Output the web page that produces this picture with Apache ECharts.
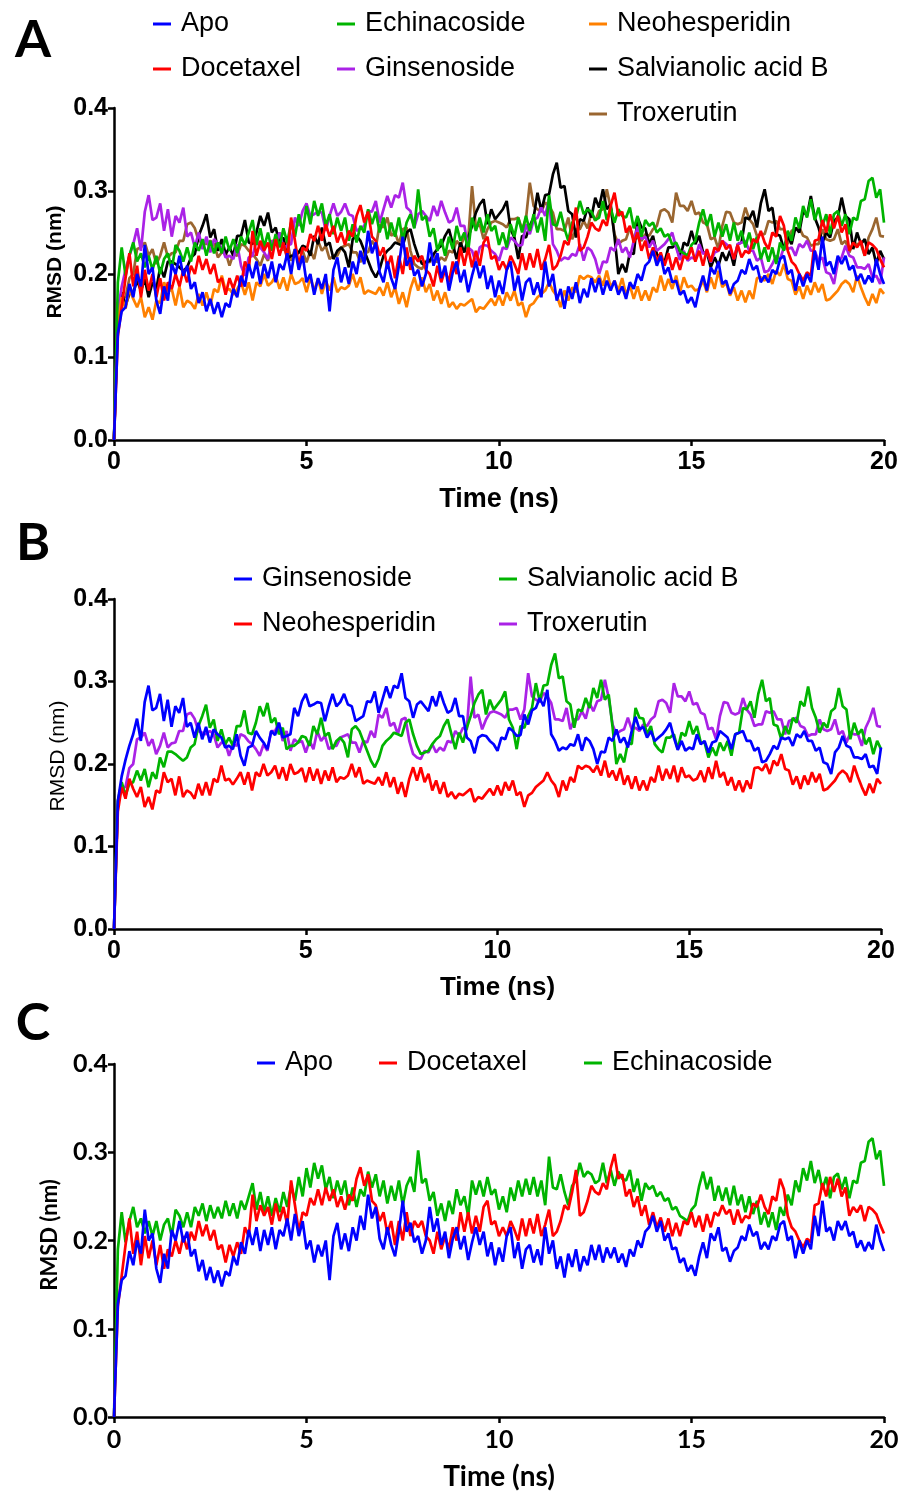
<!DOCTYPE html>
<html><head><meta charset="utf-8">
<script src="https://cdn.jsdelivr.net/npm/echarts/dist/echarts.min.js"></script>
<style>html,body{margin:0;padding:0;background:#fff}#chart{width:902px;height:1494px}</style>
</head><body><div id="chart"></div>
<script>
// ---- DATA (RMSD in nm, one sample every 0.1 ns from 0 to 20 ns) ----
const timeStepNs = 0.1;
const xTickValues = [0, 5, 10, 15, 20];
const yTickValues = [0.0, 0.1, 0.2, 0.3, 0.4];

const apo = [
0, 0.128, 0.155, 0.16, 0.188, 0.172, 0.2, 0.185, 0.235, 0.2,
0.208, 0.168, 0.152, 0.185, 0.168, 0.212, 0.2, 0.222, 0.198, 0.21,
0.182, 0.19, 0.165, 0.178, 0.155, 0.17, 0.152, 0.166, 0.148, 0.165,
0.16, 0.182, 0.172, 0.198, 0.185, 0.212, 0.195, 0.215, 0.188, 0.212,
0.195, 0.215, 0.19, 0.212, 0.205, 0.225, 0.2, 0.23, 0.205, 0.222,
0.19, 0.2, 0.175, 0.195, 0.182, 0.2, 0.155, 0.205, 0.22, 0.19,
0.208, 0.188, 0.215, 0.2, 0.228, 0.212, 0.252, 0.225, 0.238, 0.202,
0.19, 0.215, 0.195, 0.182, 0.21, 0.245, 0.21, 0.22, 0.198, 0.205,
0.185, 0.2, 0.238, 0.21, 0.225, 0.195, 0.21, 0.18, 0.202, 0.215,
0.19, 0.205, 0.178, 0.198, 0.215, 0.195, 0.21, 0.182, 0.198, 0.172,
0.192, 0.176, 0.205, 0.215, 0.18, 0.198, 0.168, 0.19, 0.195, 0.175,
0.19, 0.172, 0.215, 0.185, 0.2, 0.168, 0.182, 0.158, 0.185, 0.17,
0.19, 0.165, 0.182, 0.172, 0.195, 0.178, 0.195, 0.175, 0.192, 0.18,
0.192, 0.175, 0.185, 0.17, 0.19, 0.182, 0.2, 0.192, 0.21, 0.215,
0.228, 0.21, 0.222, 0.2, 0.208, 0.19, 0.192, 0.175, 0.18, 0.165,
0.172, 0.16, 0.182, 0.198, 0.18, 0.208, 0.2, 0.215, 0.188, 0.192,
0.176, 0.188, 0.192, 0.205, 0.2, 0.218, 0.205, 0.21, 0.19, 0.198,
0.19, 0.205, 0.2, 0.218, 0.222, 0.2, 0.205, 0.18, 0.2, 0.185,
0.2, 0.19, 0.228, 0.205, 0.245, 0.21, 0.215, 0.2, 0.222, 0.212,
0.222, 0.205, 0.21, 0.192, 0.2, 0.188, 0.198, 0.19, 0.218, 0.2,
0.188];

const docetaxel = [
0, 0.125, 0.16, 0.195, 0.225, 0.185, 0.21, 0.172, 0.205, 0.18,
0.2, 0.172, 0.195, 0.168, 0.19, 0.182, 0.2, 0.185, 0.205, 0.19,
0.21, 0.2, 0.222, 0.205, 0.218, 0.2, 0.212, 0.19, 0.195, 0.175,
0.195, 0.182, 0.198, 0.185, 0.215, 0.205, 0.252, 0.222, 0.24, 0.228,
0.238, 0.218, 0.242, 0.222, 0.238, 0.218, 0.268, 0.24, 0.21, 0.232,
0.228, 0.248, 0.24, 0.258, 0.24, 0.26, 0.245, 0.258, 0.238, 0.25,
0.235, 0.252, 0.245, 0.27, 0.283, 0.262, 0.275, 0.245, 0.24, 0.222,
0.232, 0.208, 0.222, 0.195, 0.222, 0.2, 0.232, 0.205, 0.222, 0.215,
0.222, 0.205, 0.2, 0.185, 0.21, 0.19, 0.205, 0.19, 0.215, 0.2,
0.232, 0.21, 0.232, 0.208, 0.228, 0.21, 0.238, 0.245, 0.218, 0.222,
0.205, 0.215, 0.205, 0.222, 0.212, 0.2, 0.225, 0.205, 0.225, 0.208,
0.23, 0.205, 0.218, 0.235, 0.205, 0.21, 0.222, 0.24, 0.235, 0.255,
0.28, 0.228, 0.232, 0.245, 0.262, 0.255, 0.252, 0.265, 0.258, 0.282,
0.298, 0.27, 0.275, 0.25, 0.258, 0.238, 0.25, 0.228, 0.24, 0.218,
0.232, 0.215, 0.226, 0.21, 0.225, 0.205, 0.22, 0.205, 0.222, 0.218,
0.232, 0.215, 0.228, 0.21, 0.23, 0.215, 0.232, 0.228, 0.24, 0.23,
0.235, 0.218, 0.235, 0.22, 0.228, 0.225, 0.242, 0.238, 0.252, 0.238,
0.23, 0.25, 0.245, 0.27, 0.258, 0.228, 0.215, 0.21, 0.2, 0.192,
0.202, 0.198, 0.24, 0.242, 0.265, 0.25, 0.272, 0.255, 0.27, 0.25,
0.26, 0.228, 0.238, 0.232, 0.24, 0.222, 0.238, 0.235, 0.23, 0.218,
0.208];

const echinacoside = [
0, 0.19, 0.232, 0.198, 0.222, 0.238, 0.215, 0.225, 0.208, 0.222,
0.205, 0.222, 0.2, 0.218, 0.225, 0.205, 0.235, 0.228, 0.215, 0.232,
0.215, 0.238, 0.228, 0.242, 0.222, 0.24, 0.225, 0.238, 0.225, 0.245,
0.228, 0.242, 0.225, 0.245, 0.235, 0.25, 0.265, 0.235, 0.255, 0.232,
0.25, 0.228, 0.248, 0.232, 0.255, 0.238, 0.262, 0.245, 0.272, 0.25,
0.282, 0.26, 0.288, 0.27, 0.285, 0.258, 0.272, 0.248, 0.268, 0.252,
0.268, 0.24, 0.26, 0.238, 0.258, 0.25, 0.278, 0.26, 0.275, 0.25,
0.268, 0.242, 0.262, 0.245, 0.268, 0.24, 0.262, 0.272, 0.255, 0.302,
0.265, 0.27, 0.245, 0.255, 0.228, 0.242, 0.222, 0.245, 0.23, 0.258,
0.24, 0.25, 0.228, 0.268, 0.252, 0.268, 0.25, 0.272, 0.252, 0.258,
0.235, 0.25, 0.232, 0.26, 0.245, 0.268, 0.25, 0.27, 0.252, 0.272,
0.25, 0.268, 0.24, 0.295, 0.26, 0.258, 0.275, 0.255, 0.24, 0.262,
0.268, 0.288, 0.272, 0.278, 0.275, 0.265, 0.268, 0.288, 0.265, 0.28,
0.262, 0.278, 0.27, 0.268, 0.28, 0.255, 0.27, 0.245, 0.265, 0.258,
0.262, 0.25, 0.255, 0.245, 0.248, 0.235, 0.238, 0.228, 0.225, 0.222,
0.235, 0.24, 0.262, 0.278, 0.258, 0.272, 0.245, 0.262, 0.245, 0.26,
0.24, 0.262, 0.24, 0.252, 0.232, 0.25, 0.23, 0.245, 0.218, 0.232,
0.215, 0.232, 0.212, 0.238, 0.228, 0.252, 0.24, 0.268, 0.255, 0.282,
0.268, 0.29, 0.265, 0.28, 0.258, 0.272, 0.248, 0.272, 0.276, 0.258,
0.272, 0.248, 0.268, 0.265, 0.288, 0.29, 0.312, 0.316, 0.292, 0.302,
0.262];

const neohesperidin = [
0, 0.142, 0.172, 0.158, 0.182, 0.17, 0.16, 0.172, 0.148, 0.16,
0.145, 0.168, 0.165, 0.19, 0.178, 0.182, 0.162, 0.185, 0.16, 0.168,
0.165, 0.158, 0.176, 0.162, 0.178, 0.162, 0.182, 0.178, 0.198, 0.18,
0.182, 0.175, 0.182, 0.19, 0.175, 0.19, 0.168, 0.19, 0.185, 0.2,
0.186, 0.19, 0.198, 0.182, 0.196, 0.18, 0.2, 0.188, 0.19, 0.195,
0.178, 0.196, 0.18, 0.194, 0.176, 0.192, 0.18, 0.196, 0.178, 0.184,
0.182, 0.186, 0.2, 0.184, 0.196, 0.176, 0.18, 0.178, 0.176, 0.184,
0.174, 0.19, 0.172, 0.184, 0.164, 0.178, 0.16, 0.182, 0.196, 0.18,
0.196, 0.178, 0.188, 0.168, 0.18, 0.164, 0.178, 0.16, 0.166, 0.158,
0.164, 0.162, 0.166, 0.17, 0.154, 0.16, 0.158, 0.164, 0.17, 0.162,
0.174, 0.162, 0.178, 0.168, 0.18, 0.162, 0.166, 0.148, 0.162, 0.165,
0.172, 0.176, 0.18, 0.19, 0.18, 0.174, 0.16, 0.18, 0.168, 0.184,
0.178, 0.198, 0.194, 0.198, 0.196, 0.19, 0.198, 0.186, 0.204, 0.184,
0.192, 0.18, 0.195, 0.175, 0.186, 0.17, 0.185, 0.168, 0.18, 0.168,
0.184, 0.178, 0.198, 0.18, 0.194, 0.182, 0.198, 0.178, 0.196, 0.184,
0.186, 0.18, 0.182, 0.192, 0.178, 0.196, 0.182, 0.204, 0.184, 0.19,
0.174, 0.184, 0.168, 0.18, 0.166, 0.18, 0.17, 0.195, 0.196, 0.192,
0.2, 0.188, 0.204, 0.198, 0.212, 0.194, 0.192, 0.175, 0.185, 0.17,
0.186, 0.175, 0.19, 0.178, 0.188, 0.168, 0.17, 0.175, 0.18, 0.188,
0.192, 0.188, 0.178, 0.198, 0.184, 0.172, 0.162, 0.176, 0.165, 0.182,
0.176];

const ginsenoside = [
0, 0.155, 0.185, 0.205, 0.222, 0.236, 0.255, 0.228, 0.275, 0.295,
0.265, 0.268, 0.285, 0.252, 0.278, 0.245, 0.27, 0.262, 0.28, 0.245,
0.25, 0.232, 0.25, 0.23, 0.245, 0.226, 0.242, 0.236, 0.232, 0.22,
0.222, 0.218, 0.236, 0.21, 0.198, 0.22, 0.222, 0.24, 0.232, 0.226,
0.218, 0.24, 0.235, 0.25, 0.232, 0.234, 0.236, 0.268, 0.258, 0.276,
0.285, 0.27, 0.272, 0.275, 0.274, 0.252, 0.27, 0.285, 0.27, 0.275,
0.285, 0.272, 0.27, 0.252, 0.255, 0.258, 0.276, 0.275, 0.288, 0.262,
0.278, 0.294, 0.28, 0.295, 0.292, 0.31, 0.28, 0.276, 0.256, 0.272,
0.276, 0.27, 0.264, 0.282, 0.27, 0.288, 0.274, 0.262, 0.265, 0.28,
0.258, 0.258, 0.232, 0.228, 0.213, 0.232, 0.235, 0.234, 0.228, 0.224,
0.216, 0.232, 0.23, 0.244, 0.24, 0.234, 0.235, 0.26, 0.248, 0.265,
0.268, 0.28, 0.27, 0.29, 0.236, 0.228, 0.216, 0.22, 0.218, 0.224,
0.222, 0.236, 0.216, 0.232, 0.228, 0.218, 0.2, 0.215, 0.214, 0.232,
0.228, 0.242, 0.226, 0.232, 0.22, 0.24, 0.257, 0.242, 0.245, 0.232,
0.24, 0.228, 0.232, 0.236, 0.242, 0.25, 0.232, 0.217, 0.228, 0.216,
0.22, 0.218, 0.236, 0.224, 0.228, 0.214, 0.226, 0.228, 0.24, 0.236,
0.232, 0.218, 0.236, 0.238, 0.24, 0.228, 0.228, 0.216, 0.22, 0.202,
0.204, 0.212, 0.222, 0.218, 0.232, 0.23, 0.232, 0.222, 0.236, 0.232,
0.24, 0.228, 0.228, 0.216, 0.22, 0.202, 0.2, 0.188, 0.214, 0.22,
0.234, 0.222, 0.22, 0.208, 0.208, 0.206, 0.212, 0.196, 0.198, 0.188,
0.22];

const salvianolicAcidB = [
0, 0.155, 0.178, 0.162, 0.176, 0.178, 0.192, 0.18, 0.194, 0.172,
0.19, 0.182, 0.208, 0.196, 0.215, 0.215, 0.212, 0.208, 0.204, 0.208,
0.22, 0.224, 0.246, 0.258, 0.272, 0.244, 0.254, 0.228, 0.242, 0.224,
0.232, 0.222, 0.246, 0.246, 0.265, 0.238, 0.236, 0.25, 0.27, 0.258,
0.274, 0.25, 0.256, 0.236, 0.244, 0.218, 0.222, 0.222, 0.226, 0.234,
0.232, 0.222, 0.246, 0.236, 0.256, 0.234, 0.238, 0.218, 0.228, 0.232,
0.226, 0.208, 0.242, 0.246, 0.24, 0.228, 0.216, 0.204, 0.196, 0.206,
0.222, 0.228, 0.232, 0.238, 0.236, 0.234, 0.25, 0.254, 0.236, 0.222,
0.212, 0.214, 0.216, 0.224, 0.23, 0.234, 0.246, 0.254, 0.236, 0.218,
0.238, 0.226, 0.244, 0.258, 0.274, 0.284, 0.29, 0.26, 0.278, 0.266,
0.272, 0.278, 0.288, 0.254, 0.244, 0.218, 0.246, 0.244, 0.258, 0.268,
0.298, 0.276, 0.295, 0.296, 0.32, 0.334, 0.304, 0.306, 0.276, 0.272,
0.244, 0.266, 0.264, 0.28, 0.268, 0.292, 0.28, 0.302, 0.278, 0.284,
0.245, 0.2, 0.212, 0.202, 0.226, 0.224, 0.268, 0.256, 0.255, 0.236,
0.246, 0.224, 0.218, 0.214, 0.232, 0.232, 0.236, 0.218, 0.238, 0.234,
0.252, 0.236, 0.246, 0.226, 0.226, 0.208, 0.22, 0.21, 0.226, 0.216,
0.228, 0.21, 0.236, 0.238, 0.268, 0.266, 0.276, 0.256, 0.285, 0.302,
0.276, 0.28, 0.248, 0.246, 0.23, 0.246, 0.236, 0.256, 0.25, 0.276,
0.27, 0.294, 0.268, 0.256, 0.238, 0.25, 0.244, 0.264, 0.268, 0.292,
0.27, 0.266, 0.23, 0.25, 0.236, 0.242, 0.224, 0.232, 0.212, 0.228,
0.218];

const troxerutin = [
0, 0.15, 0.172, 0.172, 0.195, 0.2, 0.23, 0.232, 0.238, 0.222,
0.23, 0.212, 0.222, 0.238, 0.22, 0.225, 0.226, 0.24, 0.24, 0.26,
0.262, 0.255, 0.24, 0.238, 0.236, 0.24, 0.236, 0.22, 0.226, 0.226,
0.21, 0.224, 0.222, 0.236, 0.234, 0.228, 0.224, 0.218, 0.21, 0.224,
0.216, 0.24, 0.24, 0.25, 0.228, 0.24, 0.216, 0.23, 0.226, 0.228,
0.214, 0.228, 0.218, 0.24, 0.228, 0.234, 0.218, 0.222, 0.222, 0.232,
0.234, 0.236, 0.226, 0.226, 0.214, 0.228, 0.226, 0.24, 0.232, 0.26,
0.256, 0.268, 0.246, 0.25, 0.236, 0.254, 0.256, 0.228, 0.212, 0.208,
0.206, 0.216, 0.214, 0.224, 0.214, 0.22, 0.216, 0.228, 0.226, 0.24,
0.234, 0.244, 0.242, 0.306, 0.256, 0.26, 0.242, 0.254, 0.262, 0.264,
0.262, 0.26, 0.256, 0.266, 0.266, 0.268, 0.254, 0.266, 0.31, 0.282,
0.278, 0.275, 0.286, 0.282, 0.274, 0.254, 0.254, 0.252, 0.268, 0.242,
0.254, 0.254, 0.264, 0.255, 0.274, 0.264, 0.276, 0.278, 0.302, 0.28,
0.248, 0.236, 0.24, 0.242, 0.256, 0.242, 0.244, 0.24, 0.248, 0.246,
0.254, 0.258, 0.276, 0.278, 0.274, 0.262, 0.298, 0.282, 0.282, 0.276,
0.288, 0.272, 0.274, 0.262, 0.26, 0.242, 0.244, 0.23, 0.258, 0.275,
0.274, 0.262, 0.26, 0.262, 0.28, 0.266, 0.26, 0.246, 0.248, 0.248,
0.264, 0.262, 0.264, 0.254, 0.254, 0.236, 0.252, 0.254, 0.256, 0.246,
0.244, 0.234, 0.236, 0.236, 0.254, 0.242, 0.24, 0.242, 0.254, 0.236,
0.24, 0.226, 0.238, 0.236, 0.236, 0.222, 0.244, 0.254, 0.268, 0.246,
0.245];

// ---- PRESENTATION ----
const DATA = {
  'Apo': apo, 'Docetaxel': docetaxel, 'Echinacoside': echinacoside,
  'Neohesperidin': neohesperidin, 'Ginsenoside': ginsenoside,
  'Salvianolic acid B': salvianolicAcidB, 'Troxerutin': troxerutin
};
const C = {blue:'#0000FF', red:'#FF0000', green:'#00B400', orange:'#FF8000',
           purple:'#AA22E6', black:'#000000', brown:'#9A6630'};

// draw order: first drawn is at the bottom
const panels = [
  { id:'A', grid:{left:114, top:108, width:770, height:332},
    draw:[['Troxerutin',C.brown],['Salvianolic acid B',C.black],['Ginsenoside',C.purple],
          ['Neohesperidin',C.orange],['Echinacoside',C.green],['Docetaxel',C.red],['Apo',C.blue]],
    legends:[{left:148, top:4, items:['Apo','Docetaxel']},
             {left:332, top:4, items:['Echinacoside','Ginsenoside']},
             {left:584, top:4, items:['Neohesperidin','Salvianolic acid B','Troxerutin']}],
    font:'Liberation Sans', yName:{x:55, y:262, size:21, weight:'bold'},
    xName:{size:27}, letter:{x:33, y:40} },
  { id:'B', grid:{left:114, top:599, width:767, height:330},
    draw:[['Troxerutin',C.purple],['Salvianolic acid B',C.green],['Neohesperidin',C.red],['Ginsenoside',C.blue]],
    legends:[{left:229, top:559, items:['Ginsenoside','Neohesperidin']},
             {left:494, top:559, items:['Salvianolic acid B','Troxerutin']}],
    font:'Liberation Sans', yName:{x:58, y:756, size:21, weight:'normal'},
    xName:{size:26}, letter:{x:33, y:543} },
  { id:'C', grid:{left:114, top:1064, width:770, height:353},
    draw:[['Echinacoside',C.green],['Docetaxel',C.red],['Apo',C.blue]],
    legends:[{left:252, top:1043, items:['Apo']},
             {left:374, top:1043, items:['Docetaxel']},
             {left:579, top:1043, items:['Echinacoside']}],
    font:'Lato', yName:{x:50, y:1235, size:22, weight:'bold'},
    xName:{size:28}, letter:{x:33, y:1023} }
];

const grids = [], xAxes = [], yAxes = [], series = [], legends = [], graphics = [];
panels.forEach((p, gi) => {
  grids.push(Object.assign({containLabel:false}, p.grid));
  xAxes.push({
    gridIndex: gi, type:'value', min: xTickValues[0], max: xTickValues[xTickValues.length-1],
    interval: xTickValues[1]-xTickValues[0],
    name:'Time (ns)', nameLocation:'middle', nameGap: 46,
    nameTextStyle:{fontFamily:p.font, fontWeight:'bold', fontSize:p.xName.size, color:'#000'},
    axisLine:{show:true, onZero:false, lineStyle:{color:'#000', width:2.5}},
    axisTick:{show:true, length:6, lineStyle:{color:'#000', width:2.5}},
    axisLabel:{color:'#000', fontFamily:p.font, fontWeight:'bold', fontSize:25, margin:10},
    splitLine:{show:false}
  });
  yAxes.push({
    gridIndex: gi, type:'value', min: yTickValues[0], max: yTickValues[yTickValues.length-1],
    interval: 0.1,
    axisLine:{show:true, onZero:false, lineStyle:{color:'#000', width:2.5}},
    axisTick:{show:true, length:6, lineStyle:{color:'#000', width:2.5}},
    axisLabel:{color:'#000', fontFamily:p.font, fontWeight:'bold', fontSize:25, margin:6,
               formatter: v => v.toFixed(1)},
    splitLine:{show:false}
  });
  p.draw.forEach(([name, color]) => {
    series.push({
      name: p.id + '|' + name, type:'line', xAxisIndex: gi, yAxisIndex: gi,
      data: DATA[name].map((v, i) => [i * timeStepNs, v]),
      showSymbol:false, symbol:'none', animation:false, silent:true,
      lineStyle:{color, width:2.7}, itemStyle:{color}, z: 2
    });
  });
  p.legends.forEach(l => {
    legends.push({
      left: l.left, top: l.top, orient:'vertical', itemGap: 15,
      data: l.items.map(n => p.id + '|' + n),
      icon:'rect', itemWidth:18, itemHeight:3, selectedMode:false,
      formatter: n => n.split('|')[1],
      textStyle:{fontFamily:'Liberation Sans', fontSize:27, color:'#000', lineHeight:30,
                 padding:[0,0,0,5]}
    });
  });
  graphics.push({
    type:'text', x:p.yName.x, y:p.yName.y, rotation: Math.PI/2,
    style:{text:'RMSD (nm)', fontFamily:p.font, fontWeight:p.yName.weight, fontSize:p.yName.size,
           fill:'#000', align:'center', verticalAlign:'middle'}
  });
  graphics.push({
    type:'text', x:p.letter.x, y:p.letter.y,
    style:{text:p.id, fontFamily:'Lato', fontWeight:'bold', fontSize:52,
           fill:'#000', align:'center', verticalAlign:'middle'}
  });
});

const chart = echarts.init(document.getElementById('chart'), null, {renderer:'canvas'});
chart.setOption({
  animation:false, backgroundColor:'#fff',
  grid: grids, xAxis: xAxes, yAxis: yAxes, series, legend: legends, graphic: graphics
});
</script></body></html>
